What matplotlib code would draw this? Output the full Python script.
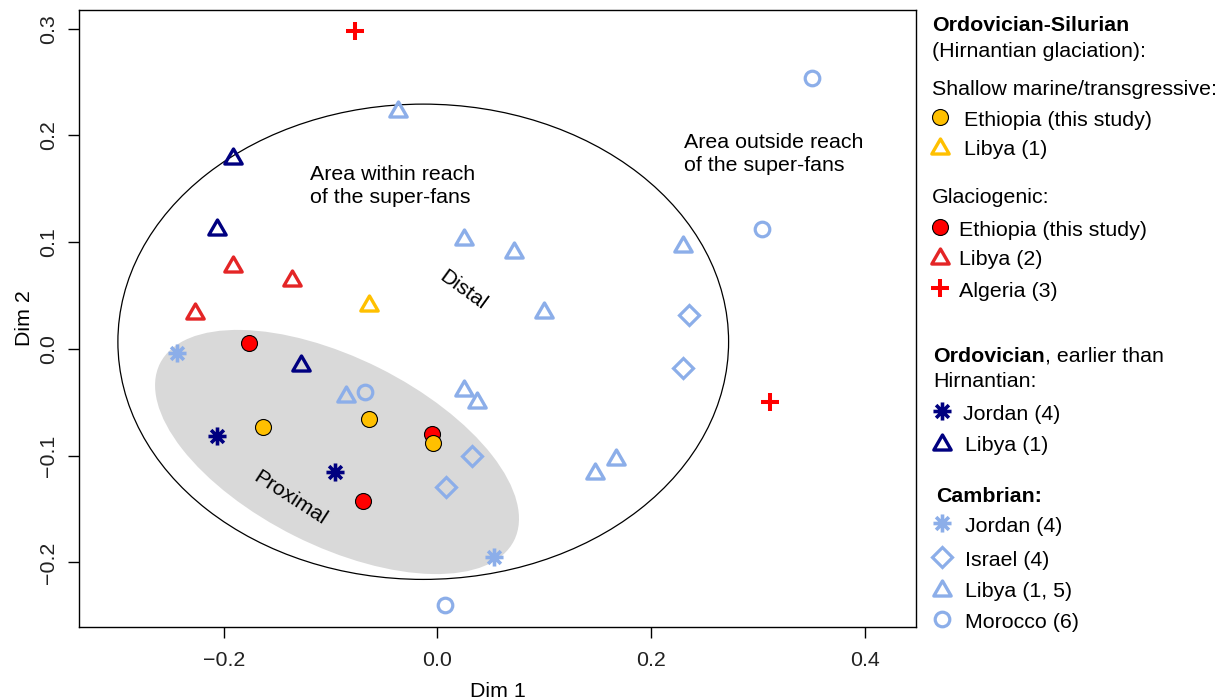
import numpy as np
import matplotlib
matplotlib.use("Agg")
import matplotlib.pyplot as plt
from matplotlib.path import Path
from matplotlib.patches import Ellipse

plt.rcParams['font.family'] = ['Liberation Sans', 'DejaVu Sans']

# --- data (Dim 1, Dim 2) ---
shallow_eth_x = [-0.1635, -0.0640, -0.0044]
shallow_eth_y = [-0.0729, -0.0657, -0.0885]
shallow_lib_x = [-0.0642]
shallow_lib_y = [0.0427]

glac_eth_x = [-0.1764, -0.0053, -0.0699]
glac_eth_y = [0.0052, -0.0797, -0.1425]
glac_lib_x = [-0.1918, -0.1364, -0.2269]
glac_lib_y = [0.0796, 0.0662, 0.0358]
glac_alg_x = [-0.0771, 0.3110]
glac_alg_y = [0.2979, -0.0495]

ord_jor_x = [-0.2066, -0.0959]
ord_jor_y = [-0.0813, -0.1151]
ord_lib_x = [-0.1918, -0.2066, -0.1280]
ord_lib_y = [0.1808, 0.1139, -0.0129]

cam_jor_x = [-0.2440, 0.0530]
cam_jor_y = [-0.0041, -0.1953]
cam_isr_x = [0.2358, 0.2299, 0.0327, 0.0083]
cam_isr_y = [0.0318, -0.0182, -0.1004, -0.1297]
cam_lib_x = [-0.0371, 0.0247, 0.0715, 0.2295, 0.1000, -0.0858, 0.0249, 0.0368, 0.1471, 0.1672]
cam_lib_y = [0.2248, 0.1051, 0.0927, 0.0983, 0.0365, -0.0423, -0.0364, -0.0479, -0.1141, -0.1010]
cam_mor_x = [0.3507, 0.3035, -0.0678, 0.0071]
cam_mor_y = [0.2538, 0.1121, -0.0401, -0.2400]

# --- styles ---
orange = '#FFC000'
red = '#FF0000'
red_tri = '#E42526'
navy = '#000080'
lblue = '#8CAEE9'

tri = Path([(-1, -0.866), (1, -0.866), (0, 0.866), (-1, -0.866)],
           [Path.MOVETO, Path.LINETO, Path.LINETO, Path.CLOSEPOLY])
ast = Path([(-1, 0), (1, 0), (0, -1), (0, 1),
            (-0.707, -0.707), (0.707, 0.707), (-0.707, 0.707), (0.707, -0.707)],
           [Path.MOVETO, Path.LINETO] * 4)

st_fill = dict(marker='o', ms=11.5, mec='black', mew=0.8)
st_tri = dict(marker=tri, ms=12.5, mfc='none', mew=2.4)
st_ast = dict(marker=ast, ms=13, mfc='none', mew=2.6)
st_dia = dict(marker='D', ms=10, mfc='none', mew=2.3)
st_circ = dict(marker='o', ms=10.5, mfc='none', mew=2.3)
st_plus = dict(marker='+', ms=13.5, mew=2.9)

groups = [
    (glac_eth_x, glac_eth_y, dict(st_fill, mfc=red)),
    (shallow_eth_x, shallow_eth_y, dict(st_fill, mfc=orange)),
    (shallow_lib_x, shallow_lib_y, dict(st_tri, mec=orange)),
    (glac_lib_x, glac_lib_y, dict(st_tri, mec=red_tri)),
    (glac_alg_x, glac_alg_y, dict(st_plus, mec=red)),
    (ord_jor_x, ord_jor_y, dict(st_ast, mec=navy)),
    (ord_lib_x, ord_lib_y, dict(st_tri, mec=navy)),
    (cam_jor_x, cam_jor_y, dict(st_ast, mec=lblue)),
    (cam_isr_x, cam_isr_y, dict(st_dia, mec=lblue)),
    (cam_lib_x, cam_lib_y, dict(st_tri, mec=lblue)),
    (cam_mor_x, cam_mor_y, dict(st_circ, mec=lblue)),
]

W, H = 1226, 699
fig = plt.figure(figsize=(W / 100, H / 100), dpi=100)
ax = fig.add_axes([79 / W, (H - 627) / H, (916 - 79) / W, (627 - 10) / H])
ax.set_xlim(-0.3355, 0.4479)
ax.set_ylim(-0.2606, 0.3176)

# areas
ax.add_patch(Ellipse((-0.094, -0.0966), 0.3706, 0.1762, angle=-26.6,
                     facecolor='#D9D9D9', edgecolor='none', zorder=0))
ax.add_patch(Ellipse((-0.0133, 0.0067), 0.5716, 0.4454, facecolor='none',
                     edgecolor='black', lw=0.9, zorder=1))

for gx, gy, st in groups:
    ax.plot(gx, gy, linestyle='none', zorder=3, **st)

fs = 15.4
ax.text(-0.1195, 0.1367, "Area within reach\nof the super-fans", fontsize=fs,
        ha='left', va='baseline', linespacing=1.3)
ax.text(0.2306, 0.1667, "Area outside reach\nof the super-fans", fontsize=fs,
        ha='left', va='baseline', linespacing=1.3)
ax.text(0.024, 0.055, "Distal", fontsize=fs, rotation=-36, ha='center', va='center',
        rotation_mode='anchor')
ax.text(-0.138, -0.140, "Proximal", fontsize=fs, rotation=-33, ha='center', va='center',
        rotation_mode='anchor')

ax.set_xticks([-0.2, 0.0, 0.2, 0.4])
ax.set_xticklabels(['\u22120.2', '0.0', '0.2', '0.4'])
ax.set_yticks([-0.2, -0.1, 0.0, 0.1, 0.2, 0.3])
ax.set_yticklabels(['\u22120.2', '\u22120.1', '0.0', '0.1', '0.2', '0.3'], rotation=90,
                   va='center')
ax.tick_params(axis='both', direction='out', length=8, width=1, labelsize=fs,
               colors='black', labelcolor='#222222')
ax.tick_params(axis='x', pad=9)
ax.tick_params(axis='y', pad=7)
for s in ax.spines.values():
    s.set_linewidth(1)
ax.set_xlabel("Dim 1", fontsize=fs, labelpad=9)
ax.set_ylabel("Dim 2", fontsize=fs, labelpad=4)

# --- legend, drawn in figure pixels ---
lg = fig.add_axes([0, 0, 1, 1])
lg.set_xlim(0, W)
lg.set_ylim(H, 0)
lg.axis('off')

headers = [
    (932, 30.7, "Ordovician-Silurian", 'bold'),
    (932, 57.3, "(Hirnantian glaciation):", 'normal'),
    (932, 95, "Shallow marine/transgressive:", 'normal'),
    (932, 203.3, "Glaciogenic:", 'normal'),
    (933, 386.7, "Hirnantian:", 'normal'),
    (936, 502.3, "Cambrian:", 'bold'),
]
for hx, hy, ht, fw in headers:
    lg.text(hx, hy, ht, fontsize=fs, fontweight=fw, ha='left', va='baseline')
t = lg.text(933, 361.7, "Ordovician", fontsize=fs, fontweight='bold', ha='left', va='baseline')
lg.annotate(", earlier than", xy=(1, 0), xycoords=t, fontsize=fs, ha='left', va='bottom')

entries = [
    (940, 964, 126, "Ethiopia (this study)", dict(st_fill, mfc=orange)),
    (940, 964, 155, "Libya (1)", dict(st_tri, mec=orange)),
    (940, 959, 236, "Ethiopia (this study)", dict(st_fill, mfc=red)),
    (940, 959, 265, "Libya (2)", dict(st_tri, mec=red_tri)),
    (940, 959, 296.7, "Algeria (3)", dict(st_plus, mec=red)),
    (941.5, 963, 420, "Jordan (4)", dict(st_ast, mec=navy)),
    (941.5, 965, 450.7, "Libya (1)", dict(st_tri, mec=navy)),
    (941.5, 965, 532.3, "Jordan (4)", dict(st_ast, mec=lblue)),
    (941.5, 965, 565.7, "Israel (4)", dict(st_dia, mec=lblue)),
    (941.5, 965, 597.3, "Libya (1, 5)", dict(st_tri, mec=lblue)),
    (941.5, 965, 627.7, "Morocco (6)", dict(st_circ, mec=lblue)),
]
for mx, tx, by, label, st in entries:
    lg.plot([mx], [by - 9], linestyle='none', clip_on=False, **st)
    lg.text(tx, by, label, fontsize=fs, ha='left', va='baseline')

fig.savefig("out.png", dpi=100)
